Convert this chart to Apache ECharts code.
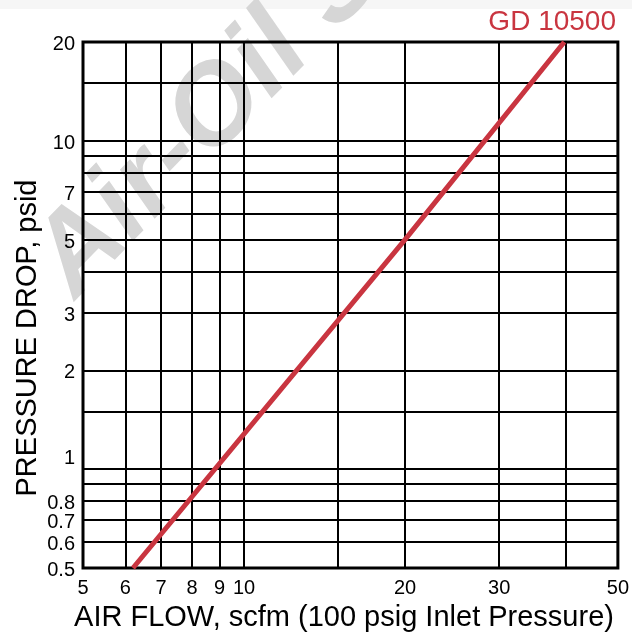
<!DOCTYPE html>
<html>
<head>
<meta charset="utf-8">
<script src="https://cdn.jsdelivr.net/npm/echarts@6/dist/echarts.min.js"></script>
<style>
  html, body { margin: 0; padding: 0; background: #ffffff; }
  #chart { width: 632px; height: 635px; }
</style>
</head>
<body>
<div id="chart"></div>
<script>
// Air flow (scfm) vs. pressure drop (psid), log-log
const flowGrid = [6, 7, 8, 9, 10, 15, 20, 30, 40];
const flowLabels = [5, 6, 7, 8, 9, 10, 20, 30, 50];
const dropGrid = [0.6, 0.7, 0.8, 0.9, 1, 1.5, 2, 3, 4, 5, 6, 7, 8, 9, 10, 15];
const dropLabels = [0.5, 0.6, 0.7, 0.8, 1, 2, 3, 5, 7, 10, 20];
const seriesName = 'GD 10500';
const flow = [6.2, 20, 39.7];
const drop = [0.5, 5.0, 20];

const FONT = '"Liberation Sans", Arial, sans-serif';
const fmt = v => String(+(+v).toPrecision(3));
// y labels sit a little below their grid line; the "1" sits above it
const fmtY = v => {
  const s = fmt(v);
  return s === '1' ? '{up|' + s + '}' : '{dn|' + s + '}';
};

const chart = echarts.init(document.getElementById('chart'), null, { renderer: 'canvas' });
chart.setOption({
  animation: false,
  backgroundColor: '#ffffff',
  grid: {
    left: 83, right: 13, top: 42, bottom: 67,
    show: true, borderColor: '#000', borderWidth: 3, backgroundColor: 'transparent'
  },
  xAxis: {
    type: 'log', logBase: 10, min: 5, max: 50,
    axisLine: { show: false },
    axisTick: { show: false, customValues: flowGrid },
    splitLine: { show: true, lineStyle: { color: '#000', width: 2 } },
    axisLabel: {
      customValues: flowLabels, formatter: fmt, margin: 10,
      color: '#000', fontSize: 20, fontFamily: FONT, showMaxLabel: true
    }
  },
  yAxis: {
    type: 'log', logBase: 10, min: 0.5, max: 20,
    axisLine: { show: false },
    axisTick: { show: false, customValues: dropGrid },
    splitLine: { show: true, lineStyle: { color: '#000', width: 2 } },
    axisLabel: {
      customValues: dropLabels, formatter: fmtY, margin: 8,
      color: '#000', fontSize: 20, fontFamily: FONT,
      rich: {
        up: { color: '#000', fontSize: 20, fontFamily: FONT, padding: [0, 0, 22, 0] },
        dn: { color: '#000', fontSize: 20, fontFamily: FONT, padding: [5, 0, 0, 0] }
      }
    }
  },
  graphic: [
    {
      type: 'rect', z: -20, silent: true,
      shape: { x: 0, y: 0, width: 632, height: 9 },
      style: { fill: '#f6f6f6' }
    },
    {
      type: 'text', z: -10, silent: true,
      x: 53, y: 279, rotation: 0.8,
      style: { text: 'Air-Oil Systems', fill: '#d6d6d6', font: 'italic bold 112px ' + FONT, textVerticalAlign: 'middle' }
    },
    {
      type: 'text', silent: true, x: 616, y: 22,
      style: { text: seriesName, fill: '#c93540', font: '28px ' + FONT, textAlign: 'right', textVerticalAlign: 'middle' }
    },
    {
      type: 'text', silent: true, x: 344, y: 618,
      style: { text: 'AIR FLOW, scfm (100 psig Inlet Pressure)', fill: '#000', font: '29px ' + FONT, textAlign: 'center', textVerticalAlign: 'middle' }
    },
    {
      type: 'text', silent: true, x: 28, y: 338, rotation: Math.PI / 2,
      style: { text: 'PRESSURE DROP, psid', fill: '#000', font: '29px ' + FONT, textAlign: 'center', textVerticalAlign: 'middle' }
    }
  ],
  series: [{
    name: seriesName,
    type: 'line',
    data: flow.map((x, i) => [x, drop[i]]),
    showSymbol: false,
    lineStyle: { color: '#c93540', width: 5 },
    z: 5
  }]
});
</script>
</body>
</html>
